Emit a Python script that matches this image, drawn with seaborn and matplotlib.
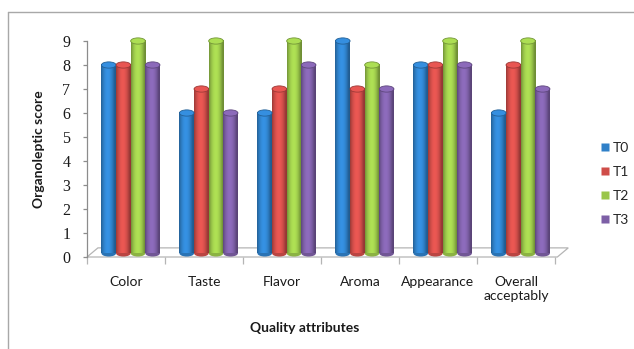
import numpy as np
import pandas as pd
import matplotlib
matplotlib.use("Agg")
import matplotlib.pyplot as plt
import matplotlib.colors as mcolors
import seaborn as sns
from matplotlib.patches import Ellipse, Polygon
from matplotlib.lines import Line2D

# Sensory scores per quality attribute for each treatment
attributes = ["Color", "Taste", "Flavor", "Aroma", "Appearance", "Overall\nacceptably"]
treatments = ["T0", "T1", "T2", "T3"]
t0_scores = [8, 6, 6, 9, 8, 6]
t1_scores = [8, 7, 7, 7, 8, 8]
t2_scores = [9, 9, 9, 8, 9, 9]
t3_scores = [8, 6, 8, 7, 8, 7]
y_ticks = list(range(0, 10))

colors = ["#2F80C8", "#CF4D49", "#9AC64A", "#7D5FA6"]

df = pd.DataFrame({
    "attribute": attributes * 4,
    "treatment": [t for t in treatments for _ in attributes],
    "score": t0_scores + t1_scores + t2_scores + t3_scores,
})

sns.set_theme(style="white")
plt.rcParams["font.family"] = ["Lato", "DejaVu Sans"]

fig = plt.figure(figsize=(6.34, 3.49), dpi=100)
ax = fig.add_axes([87 / 634, 92 / 349, 468 / 634, 216 / 349])

sns.barplot(data=df, x="attribute", y="score", hue="treatment",
            hue_order=treatments, order=attributes, palette=colors,
            width=0.75, saturation=1, legend=False, ax=ax, zorder=3)

ax.set_xlim(-0.5, 5.5)
ax.set_ylim(0, 9)

# 3D floor under the bars
floor = Polygon([(-0.5, 0), (5.53, 0), (5.67, 0.38), (-0.36, 0.38)],
                closed=True, facecolor="white", edgecolor="#b5b5b5",
                lw=0.9, zorder=1, clip_on=False)
ax.add_patch(floor)

# cylinder shading: gradient body plus elliptical caps
t = np.linspace(0, 1, 64)
shade = 0.72 + 0.42 * np.sin(np.pi * np.clip(t * 1.1, 0, 1)) ** 0.8
for container, col in zip(ax.containers, colors):
    base = np.array(mcolors.to_rgb(col))
    grad = np.clip(base[None, :] * shade[:, None], 0, 1)[None, :, :]
    for bar in container:
        bar.set_x(bar.get_x() + 0.06)
        x0, w, h = bar.get_x(), bar.get_width(), bar.get_height()
        bar.set_facecolor("none")
        bar.set_edgecolor("none")
        ax.imshow(grad, extent=[x0, x0 + w, 0.15, h], aspect="auto",
                  interpolation="bicubic", zorder=3, clip_on=False)
        dark = np.clip(base * 0.75, 0, 1)
        ax.add_patch(Ellipse((x0 + w / 2, 0.15), w, 0.26, facecolor=base * 0.9,
                             edgecolor="none", zorder=2.9, clip_on=False))
        ax.add_patch(Ellipse((x0 + w / 2, h), w, 0.26,
                             facecolor=np.clip(base * 1.12, 0, 1),
                             edgecolor=dark, lw=0.6, zorder=3.2, clip_on=False))

ax.set_xlim(-0.5, 5.5)
ax.set_ylim(0, 9)
ax.set_aspect("auto")

# axes styling
for side in ["top", "right", "bottom"]:
    ax.spines[side].set_visible(False)
ax.spines["left"].set_color("#8c8c8c")
ax.spines["left"].set_linewidth(0.9)
ax.grid(False)

ax.set_yticks(y_ticks)
ax.set_yticklabels([str(v) for v in y_ticks])
ax.tick_params(axis="y", left=True, length=3, width=0.9, color="#8c8c8c", pad=9,
               labelsize=11.5, labelcolor="#1a1a1a",
               labelfontfamily="Liberation Serif")

ax.set_xticks(range(len(attributes)))
ax.set_xticklabels(attributes, fontsize=10, color="#1a1a1a", linespacing=1.15)
ax.set_xticks(np.arange(-0.5, 6, 1), minor=True)
ax.tick_params(axis="x", which="major", bottom=False, length=0, pad=14)
ax.tick_params(axis="x", which="minor", bottom=True, length=5, width=0.9, color="#b5b5b5")

ax.set_xlabel("Quality attributes", fontsize=10, fontweight="bold", color="#1a1a1a")
ax.set_ylabel("Organoleptic score", fontsize=10, fontweight="bold", color="#1a1a1a")
ax.xaxis.set_label_coords((305 - 87) / 468, (257 - 322) / 216)
ax.yaxis.set_label_coords((45 - 87) / 468, 0.5)

# legend
handles = [Line2D([0], [0], marker="s", linestyle="none", markersize=6,
                  markerfacecolor=c, markeredgecolor="none") for c in colors]
fig.legend(handles, treatments, loc="center left",
           bbox_to_anchor=(601 / 634, 1 - 184 / 349), frameon=False,
           fontsize=10, handlelength=0.6, handletextpad=0.25,
           labelspacing=0.85, borderpad=0, borderaxespad=0)

# chart area frame
fig.add_artist(Line2D([8 / 634, 1], [1 - 12 / 349] * 2, transform=fig.transFigure,
                      color="#a8a8a8", lw=1))
fig.add_artist(Line2D([8 / 634] * 2, [0, 1 - 12 / 349], transform=fig.transFigure,
                      color="#a8a8a8", lw=1))

fig.savefig("out.png", dpi=100, facecolor="white")
